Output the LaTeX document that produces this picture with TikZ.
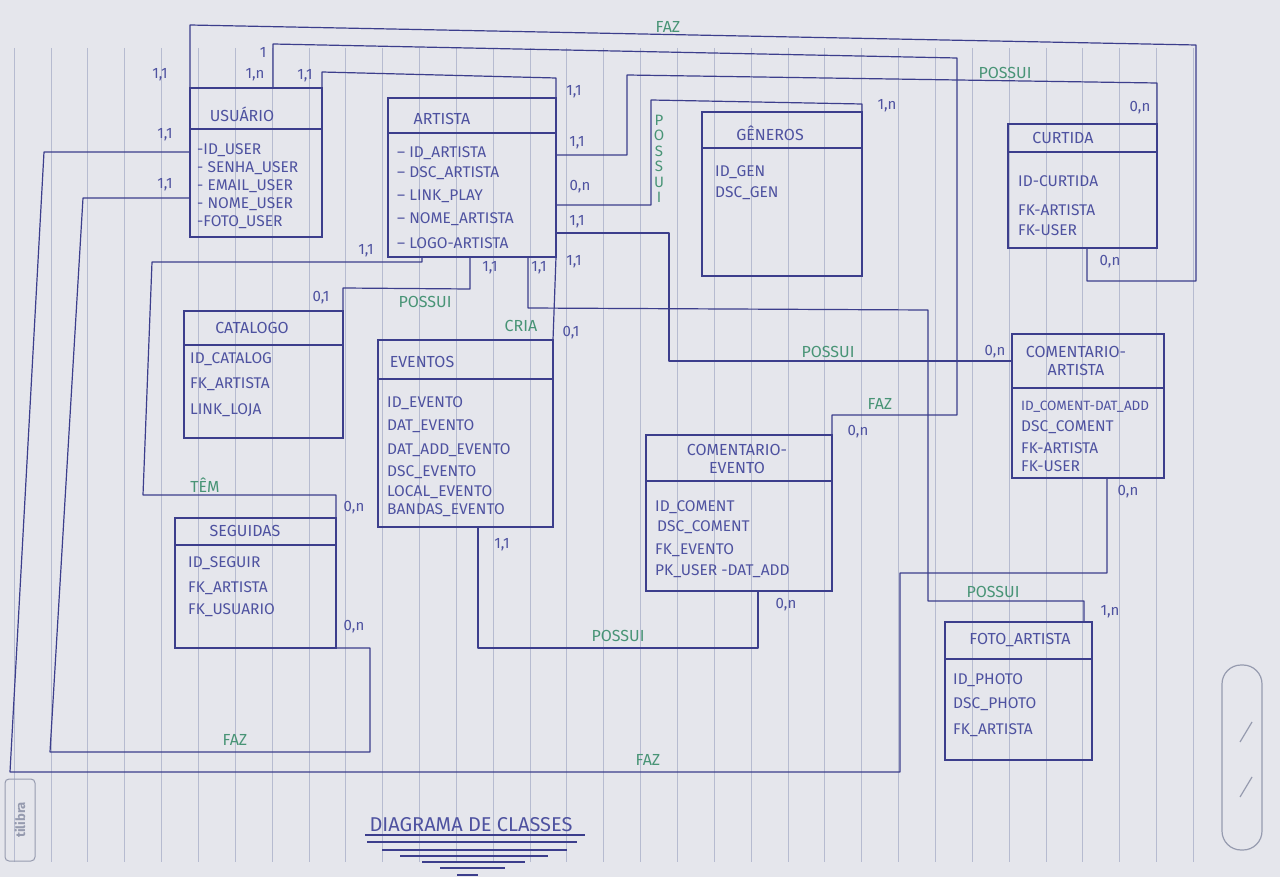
\documentclass[tikz,border=0pt]{standalone}
\usepackage{fontspec}
\setmainfont{Fira Sans}
\definecolor{paper}{RGB}{229,230,236}
\definecolor{ink}{RGB}{60,62,140}
\definecolor{pen}{RGB}{78,82,160}
\definecolor{grn}{RGB}{72,148,118}
\definecolor{rulec}{RGB}{182,187,208}
\definecolor{logoc}{RGB}{150,155,175}
\begin{document}
\begin{tikzpicture}[x=1pt,y=-1pt,
 ent/.style={draw=ink, line width=1.3pt, inner sep=0pt, outer sep=0pt, anchor=north west},
 sepl/.style={draw=ink, line width=1.2pt},
 conn/.style={draw=ink, line width=1.2pt, line join=round},
 attr/.style={text=pen, font=\fontsize{15.5}{17}\selectfont, anchor=west, inner sep=0pt},
 ttl/.style={text=pen, font=\fontsize{16}{18}\selectfont, inner sep=0pt, align=center},
 card/.style={text=pen, font=\fontsize{15}{16}\selectfont, inner sep=0pt},
 rel/.style={text=grn, font=\fontsize{16}{17}\selectfont, inner sep=0pt},
]
\fill[paper] (0,0) rectangle (1280,877);
\useasboundingbox (0,0) rectangle (1280,877);
\foreach \k in {0,...,32} \draw[rulec, line width=0.6pt] ({14+36.85*\k},48) -- ({14+36.85*\k},862);

% ---------- entities ----------
\node[ent, minimum width=132pt, minimum height=149pt] (usuario) at (190,88) {};
\draw[sepl] (usuario.west |- 0,129) -- (usuario.east |- 0,129);
\node[ttl] (usuarioT) at (242,114) {USUÁRIO};
\node[attr] (u1) at (197,150) {-ID\_USER};
\node[attr] (u2) at (197,168) {- SENHA\_USER};
\node[attr] (u3) at (197,186) {- EMAIL\_USER};
\node[attr] (u4) at (197,204) {- NOME\_USER};
\node[attr] (u5) at (197,222) {-FOTO\_USER};

\node[ent, minimum width=168pt, minimum height=159pt] (artista) at (388,98) {};
\draw[sepl] (artista.west |- 0,133) -- (artista.east |- 0,133);
\node[ttl] (artistaT) at (442,119) {ARTISTA};
\node[attr] (a1) at (397,153) {– ID\_ARTISTA};
\node[attr] (a2) at (397,173) {– DSC\_ARTISTA};
\node[attr] (a3) at (397,196) {– LINK\_PLAY};
\node[attr] (a4) at (397,219) {– NOME\_ARTISTA};
\node[attr] (a5) at (397,243) {– LOGO-ARTISTA};

\node[ent, minimum width=160pt, minimum height=164pt] (generos) at (702,112) {};
\draw[sepl] (generos.west |- 0,148) -- (generos.east |- 0,148);
\node[ttl] (generosT) at (770,133) {GÊNEROS};
\node[attr] (g1) at (715,172) {ID\_GEN};
\node[attr] (g2) at (715,193) {DSC\_GEN};

\node[ent, minimum width=149pt, minimum height=124pt] (curtida) at (1008,124) {};
\draw[sepl] (curtida.west |- 0,152) -- (curtida.east |- 0,152);
\node[ttl] (curtidaT) at (1063,138) {CURTIDA};
\node[attr] (k1) at (1018,181) {ID-CURTIDA};
\node[attr] (k2) at (1018,210) {FK-ARTISTA};
\node[attr] (k3) at (1018,230) {FK-USER};

\node[ent, minimum width=159pt, minimum height=127pt] (catalogo) at (184,311) {};
\draw[sepl] (catalogo.west |- 0,345) -- (catalogo.east |- 0,345);
\node[ttl] (catalogoT) at (252,328) {CATALOGO};
\node[attr] (t1) at (190,359) {ID\_CATALOG};
\node[attr] (t2) at (190,384) {FK\_ARTISTA};
\node[attr] (t3) at (190,410) {LINK\_LOJA};

\node[ent, minimum width=175pt, minimum height=187pt] (eventos) at (378,340) {};
\draw[sepl] (eventos.west |- 0,379) -- (eventos.east |- 0,379);
\node[ttl] (eventosT) at (422,362) {EVENTOS};
\node[attr] (e1) at (387,403) {ID\_EVENTO};
\node[attr] (e2) at (387,426) {DAT\_EVENTO};
\node[attr] (e3) at (387,450) {DAT\_ADD\_EVENTO};
\node[attr] (e4) at (387,472) {DSC\_EVENTO};
\node[attr] (e5) at (387,492) {LOCAL\_EVENTO};
\node[attr] (e6) at (387,510) {BANDAS\_EVENTO};

\node[ent, minimum width=186pt, minimum height=156pt] (comevento) at (646,435) {};
\draw[sepl] (comevento.west |- 0,481) -- (comevento.east |- 0,481);
\node[ttl] (comeventoT) at (737,459) {COMENTARIO-\\EVENTO};
\node[attr] (ce1) at (655,507) {ID\_COMENT};
\node[attr] (ce2) at (657,527) {DSC\_COMENT};
\node[attr] (ce3) at (655,550) {FK\_EVENTO};
\node[attr] (ce4) at (655,571) {PK\_USER -DAT\_ADD};

\node[ent, minimum width=152pt, minimum height=144pt] (comartista) at (1012,334) {};
\draw[sepl] (comartista.west |- 0,388) -- (comartista.east |- 0,388);
\node[ttl] (comartistaT) at (1076,361) {COMENTARIO-\\ARTISTA};
\node[attr, font=\fontsize{13.5}{15}\selectfont] (ca1) at (1021,407) {ID\_COMENT-DAT\_ADD};
\node[attr] (ca2) at (1021,427) {DSC\_COMENT};
\node[attr] (ca3) at (1021,448) {FK-ARTISTA};
\node[attr] (ca4) at (1021,466) {FK-USER};

\node[ent, minimum width=161pt, minimum height=130pt] (seguidas) at (175,518) {};
\draw[sepl] (seguidas.west |- 0,545) -- (seguidas.east |- 0,545);
\node[ttl] (seguidasT) at (245,531) {SEGUIDAS};
\node[attr] (s1) at (188,563) {ID\_SEGUIR};
\node[attr] (s2) at (188,588) {FK\_ARTISTA};
\node[attr] (s3) at (188,610) {FK\_USUARIO};

\node[ent, minimum width=147pt, minimum height=138pt] (foto) at (945,622) {};
\draw[sepl] (foto.west |- 0,659) -- (foto.east |- 0,659);
\node[ttl] (fotoT) at (1020,640) {FOTO\_ARTISTA};
\node[attr] (f1) at (953,680) {ID\_PHOTO};
\node[attr] (f2) at (953,704) {DSC\_PHOTO};
\node[attr] (f3) at (953,730) {FK\_ARTISTA};

% ---------- connectors ----------
% USUARIO - CURTIDA (FAZ)
\draw[conn] (usuario.north west) -- (190,25) -- (1196,45) -- (1196,281) -- (1087,281) -- (1087,0 |- curtida.south);
% USUARIO - COMENTARIO-EVENTO (FAZ)
\draw[conn] (273,0 |- usuario.north) -- (273,44) -- (957,58) -- (957,415) -- (832,415) -- (comevento.north east);
% USUARIO - ARTISTA
\draw[conn] (usuario.north east) -- (322,72) -- (556,78) -- (artista.north east);
% USUARIO - COMENTARIO-ARTISTA (FAZ)
\draw[conn] (usuario.west |- 0,152) -- (44,152) -- (10,772) -- (900,772) -- (900,573) -- (1107,573) -- (1107,0 |- comartista.south);
% USUARIO - SEGUIDAS (FAZ)
\draw[conn] (usuario.west |- 0,198) -- (83,198) -- (50,752) -- (370,752) -- (370,648) -- (seguidas.south east);
% ARTISTA - CURTIDA (POSSUI)
\draw[conn] (artista.east |- 0,155) -- (627,155) -- (627,75) -- (1157,83) -- (curtida.north east);
% ARTISTA - GENEROS (POSSUI)
\draw[conn] (artista.east |- 0,205) -- (651,205) -- (651,100) -- (862,104) -- (generos.north east);
% ARTISTA - COMENTARIO-ARTISTA (POSSUI)
\draw[conn] (artista.east |- 0,233) -- (669,233) -- (669,361) -- (comartista.west |- 0,361);
% ARTISTA - FOTO_ARTISTA (POSSUI)
\draw[conn] (528,0 |- artista.south) -- (528,308) -- (928,310) -- (928,601) -- (1084,601) -- (1084,0 |- foto.north);
% ARTISTA - EVENTOS (CRIA)
\draw[conn] (artista.south east) -- (eventos.north east);
% ARTISTA - CATALOGO (POSSUI)
\draw[conn] (470,0 |- artista.south) -- (470,289) -- (343,288) -- (catalogo.north east);
% ARTISTA - SEGUIDAS (TEM)
\draw[conn] (422,0 |- artista.south) -- (422,262) -- (152,262) -- (143,495) -- (336,495) -- (seguidas.north east);
% EVENTOS - COMENTARIO-EVENTO (POSSUI)
\draw[conn] (478,0 |- eventos.south) -- (478,648) -- (758,648) -- (758,0 |- comevento.south);

% ---------- relationship labels ----------
\node[rel] (r1) at (668,27) {FAZ};
\node[rel] (r2) at (1005,73) {POSSUI};
\node[rel, align=center, font=\fontsize{15}{15.5}\selectfont] (r3) at (659,159) {P\\O\\S\\S\\U\\I};
\node[rel] (r4) at (425,302) {POSSUI};
\node[rel] (r5) at (521,326) {CRIA};
\node[rel] (r6) at (828,352) {POSSUI};
\node[rel] (r7) at (880,404) {FAZ};
\node[rel] (r8) at (205,485) {TÊM};
\node[rel] (r9) at (993,592) {POSSUI};
\node[rel] (r10) at (618,636) {POSSUI};
\node[rel] (r11) at (235,740) {FAZ};
\node[rel] (r12) at (648,760) {FAZ};

% ---------- cardinalities ----------
\node[card] (c1) at (160,75) {1,1};
\node[card] (c2) at (263,52) {1};
\node[card] (c3) at (255,75) {1,n};
\node[card] (c4) at (305,76) {1,1};
\node[card] (c5) at (574,92) {1,1};
\node[card] (c6) at (165,135) {1,1};
\node[card] (c7) at (165,185) {1,1};
\node[card] (c8) at (577,143) {1,1};
\node[card] (c9) at (580,187) {0,n};
\node[card] (c10) at (577,222) {1,1};
\node[card] (c11) at (574,262) {1,1};
\node[card] (c12) at (539,268) {1,1};
\node[card] (c13) at (490,268) {1,1};
\node[card] (c14) at (366,251) {1,1};
\node[card] (c15) at (321,298) {0,1};
\node[card] (c16) at (571,333) {0,1};
\node[card] (c17) at (887,106) {1,n};
\node[card] (c18) at (1140,108) {0,n};
\node[card] (c19) at (1110,262) {0,n};
\node[card] (c20) at (995,352) {0,n};
\node[card] (c21) at (858,432) {0,n};
\node[card] (c22) at (1128,492) {0,n};
\node[card] (c23) at (354,508) {0,n};
\node[card] (c24) at (354,627) {0,n};
\node[card] (c25) at (502,545) {1,1};
\node[card] (c26) at (786,605) {0,n};
\node[card] (c27) at (1110,612) {1,n};

% ---------- title ----------
\node[text=pen, font=\fontsize{20}{22}\selectfont, inner sep=0pt] (titulo) at (471,825) {DIAGRAMA DE CLASSES};
\draw[ink, line width=1.1pt] (365,835) -- (585,835);
\draw[ink, line width=1.1pt] (367,842) -- (577,842);
\draw[ink, line width=1.1pt] (382,850) -- (567,850);
\draw[ink, line width=1.1pt] (400,856) -- (548,856);
\draw[ink, line width=1.1pt] (422,862) -- (525,862);
\draw[ink, line width=1.1pt] (440,868) -- (505,868);
\draw[ink, line width=1.1pt] (457,875) -- (478,875);

% ---------- paper marks ----------
\node[draw=logoc, rounded corners=4pt, line width=1pt, rotate=90, text=logoc, font=\fontsize{13}{14}\selectfont\bfseries, minimum width=82pt, minimum height=30pt] (logo) at (20,820) {tilibra};
\draw[logoc, line width=1.2pt, rounded corners=19pt] (1222,665) rectangle (1262,850);
\draw[logoc, line width=1.2pt] (1240,742) -- (1252,722);
\draw[logoc, line width=1.2pt] (1240,797) -- (1252,777);
\end{tikzpicture}
\end{document}
